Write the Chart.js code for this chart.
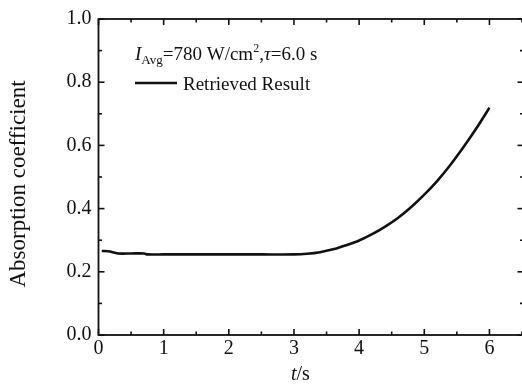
<!DOCTYPE html>
<html>
<head>
<meta charset="utf-8">
<script src="https://cdn.jsdelivr.net/npm/chart.js@4"></script>
<style>
  html, body { margin: 0; padding: 0; background: #fff; }
  #c { display: block; }
</style>
</head>
<body>
<canvas id="c" width="522" height="386"></canvas>
<script>
// ---- data ----
const timeS = [0.05, 0.15, 0.3, 0.5, 0.7, 0.75, 1.0, 1.5, 2.0, 2.5, 3.0, 3.2, 3.4, 3.6, 3.8, 4.0, 4.2, 4.4, 4.6, 4.8, 5.0, 5.2, 5.4, 5.6, 5.8, 6.0];
const absorption = [0.266, 0.265, 0.258, 0.258, 0.258, 0.255, 0.255, 0.255, 0.255, 0.255, 0.255, 0.257, 0.262, 0.271, 0.284, 0.299, 0.319, 0.343, 0.371, 0.405, 0.444, 0.488, 0.538, 0.594, 0.654, 0.719];
const xTicks = [0, 1, 2, 3, 4, 5, 6];
const yTicks = [0.0, 0.2, 0.4, 0.6, 0.8, 1.0];
const legendLabel = "Retrieved Result";

const SERIF = "'Liberation Serif', 'Times New Roman', serif";

// frame + inward ticks + texts
const decor = {
  id: "decor",
  afterDraw(chart) {
    const { ctx, chartArea: a, scales } = chart;
    const xs = scales.x, ys = scales.y;
    const right = a.right + 1.5; // right frame sits just past the edge
    ctx.save();
    ctx.strokeStyle = "#111";
    ctx.lineWidth = 1.8;
    ctx.strokeRect(a.left, a.top, right - a.left, a.bottom - a.top);

    ctx.lineWidth = 1.6;
    const seg = (x1, y1, x2, y2) => { ctx.beginPath(); ctx.moveTo(x1, y1); ctx.lineTo(x2, y2); ctx.stroke(); };
    for (let v = 0; v <= 6.5; v += 0.5) {
      const px = xs.getPixelForValue(v);
      const len = Number.isInteger(v) ? 6 : 3.5;
      seg(px, a.bottom, px, a.bottom - len);
      seg(px, a.top, px, a.top + len);
    }
    for (let i = 0; i <= 10; i++) {
      const py = ys.getPixelForValue(i / 10);
      const len = i % 2 === 0 ? 6 : 3.5;
      seg(a.left, py, a.left + len, py);
      seg(right, py, right - len, py);
    }

    ctx.fillStyle = "#111";
    ctx.textBaseline = "alphabetic";

    // annotation line: I_Avg=780 W/cm^2, tau=6.0 s
    let x = 135, y = 60;
    const put = (txt, font, dy = 0) => {
      ctx.font = font;
      ctx.fillText(txt, x, y + dy);
      x += ctx.measureText(txt).width;
    };
    put("I", "italic 19px " + SERIF);
    put("Avg", "13px " + SERIF, 4);
    put("=780 W/cm", "19px " + SERIF);
    put("2", "12px " + SERIF, -8);
    put(",", "19px " + SERIF);
    put("τ", "italic 19px " + SERIF);
    put("=6.0 s", "19px " + SERIF);

    // legend
    ctx.lineWidth = 2.6;
    seg(135, 83, 177, 83);
    ctx.font = "19px " + SERIF;
    ctx.fillText(legendLabel, 183, 90);

    // axis titles
    ctx.font = "23px " + SERIF;
    ctx.textAlign = "center";
    ctx.save();
    ctx.translate(25, 184);
    ctx.rotate(-Math.PI / 2);
    ctx.fillText("Absorption coefficient", 0, 0);
    ctx.restore();

    ctx.textAlign = "left";
    ctx.font = "italic 20px " + SERIF;
    const tw = ctx.measureText("t").width;
    ctx.fillText("t", 291, 380);
    ctx.font = "20px " + SERIF;
    ctx.fillText("/s", 291 + tw, 380);
    ctx.restore();
  }
};

new Chart(document.getElementById("c"), {
  type: "line",
  data: {
    datasets: [{
      label: legendLabel,
      data: timeS.map((t, i) => ({ x: t, y: absorption[i] })),
      borderColor: "#111",
      borderWidth: 2.6,
      pointRadius: 0,
      tension: 0.3,
      fill: false
    }]
  },
  options: {
    responsive: false,
    devicePixelRatio: 1,
    animation: false,
    layout: { padding: { top: 15, right: 0, bottom: 0, left: 0 } },
    plugins: { legend: { display: false }, tooltip: { enabled: false } },
    scales: {
      x: {
        type: "linear",
        min: 0,
        max: 6.5,
        afterFit(s) { s.height = 51; },
        afterBuildTicks(s) { s.ticks = xTicks.map(v => ({ value: v })); },
        grid: { display: false, drawTicks: false },
        border: { display: false },
        ticks: {
          color: "#111",
          padding: 2,
          font: { family: SERIF, size: 20 },
          callback: v => String(v)
        }
      },
      y: {
        min: 0,
        max: 1,
        afterFit(s) { s.width = 98.5; },
        afterBuildTicks(s) { s.ticks = yTicks.map(v => ({ value: v })); },
        grid: { display: false, drawTicks: false },
        border: { display: false },
        ticks: {
          color: "#111",
          padding: 7,
          font: { family: SERIF, size: 20 },
          callback: v => Number(v).toFixed(1)
        }
      }
    }
  },
  plugins: [decor]
});
</script>
</body>
</html>
